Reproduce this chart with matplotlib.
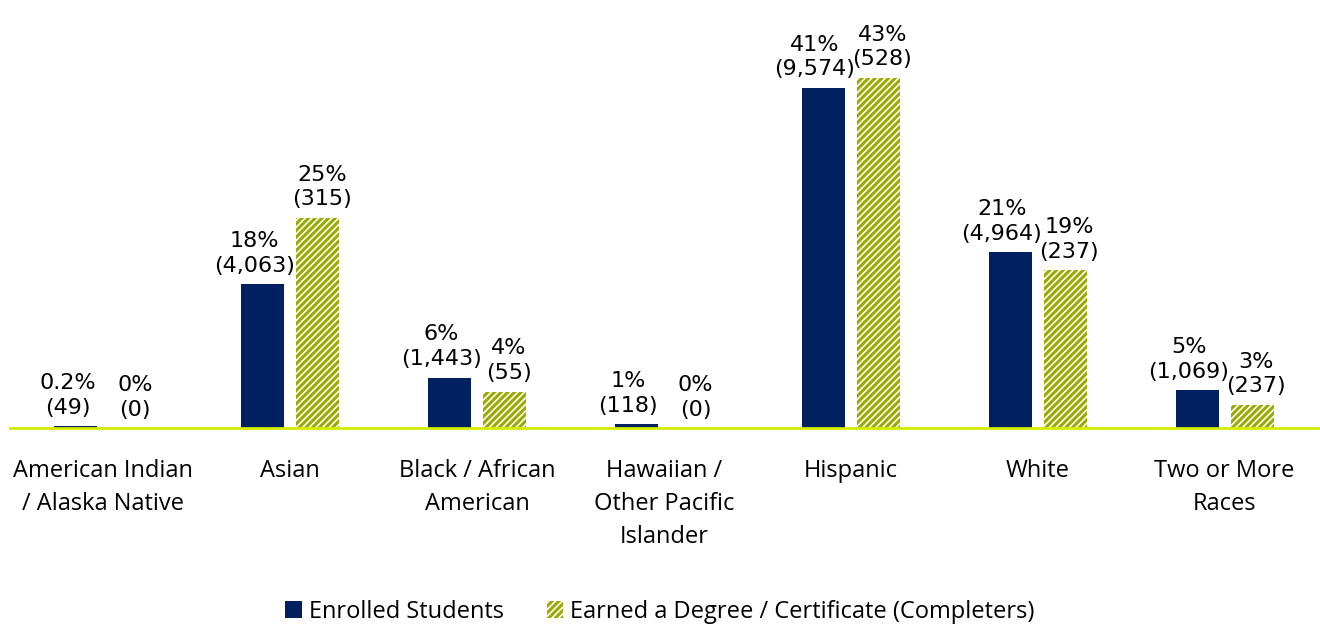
import matplotlib.pyplot as plt
import numpy as np

# data
categories = ['American Indian\n/ Alaska Native', 'Asian', 'Black / African\nAmerican',
              'Hawaiian /\nOther Pacific\nIslander', 'Hispanic', 'White', 'Two or More\nRaces']
enrolled_pct = [0.2, 17.4, 6.1, 0.5, 41.1, 21.2, 4.6]
completer_pct = [0.0, 25.4, 4.4, 0.0, 42.3, 19.1, 2.8]
enrolled_labels = ['0.2%\n(49)', '18%\n(4,063)', '6%\n(1,443)', '1%\n(118)',
                   '41%\n(9,574)', '21%\n(4,964)', '5%\n(1,069)']
completer_labels = ['0%\n(0)', '25%\n(315)', '4%\n(55)', '0%\n(0)',
                    '43%\n(528)', '19%\n(237)', '3%\n(237)']

navy = '#002060'
olive = '#9AAA00'
axis_green = '#D4EC00'

plt.rcParams['font.family'] = ['Open Sans', 'DejaVu Sans']
plt.rcParams['hatch.linewidth'] = 2.2

fig = plt.figure(figsize=(13.2, 6.28), dpi=100)
ax = fig.add_axes([10 / 1320, 200 / 628, 1308 / 1320, 428 / 628])

x = np.arange(len(categories))
w = 0.23
off = 0.147

b1 = ax.bar(x - off, enrolled_pct, w, color=navy, label='Enrolled Students')
b2 = ax.bar(x + off, completer_pct, w, facecolor='white', edgecolor=olive, hatch='/////',
            linewidth=0, label='Earned a Degree / Certificate (Completers)')

for xi, h, t in zip(x, enrolled_pct, enrolled_labels):
    ax.annotate(t, (xi - off, h), xytext=(-6, 6), textcoords='offset points',
                ha='center', va='bottom', fontsize=16, linespacing=1.3,
                family='DejaVu Sans')
for xi, h, t in zip(x, completer_pct, completer_labels):
    ax.annotate(t, (xi + off, h), xytext=(3, 6), textcoords='offset points',
                ha='center', va='bottom', fontsize=16, linespacing=1.3,
                family='DejaVu Sans')

ax.set_xlim(-0.5, 6.5)
ax.set_ylim(0, 51.7)
ax.set_yticks([])
ax.set_xticks(x)
ax.set_xticklabels(categories, fontsize=17, linespacing=1.5)
ax.tick_params(axis='x', length=0, pad=22)
for s in ['top', 'right', 'left']:
    ax.spines[s].set_visible(False)
ax.spines['bottom'].set_color(axis_green)
ax.spines['bottom'].set_linewidth(2)

fig.legend(handles=[b1, b2], loc='center', bbox_to_anchor=(0.5, 16 / 628), ncol=2,
           frameon=False, fontsize=17, handlelength=0.7, handleheight=0.7,
           handletextpad=0.3, columnspacing=1.8)

fig.savefig('out.png', dpi=100)
